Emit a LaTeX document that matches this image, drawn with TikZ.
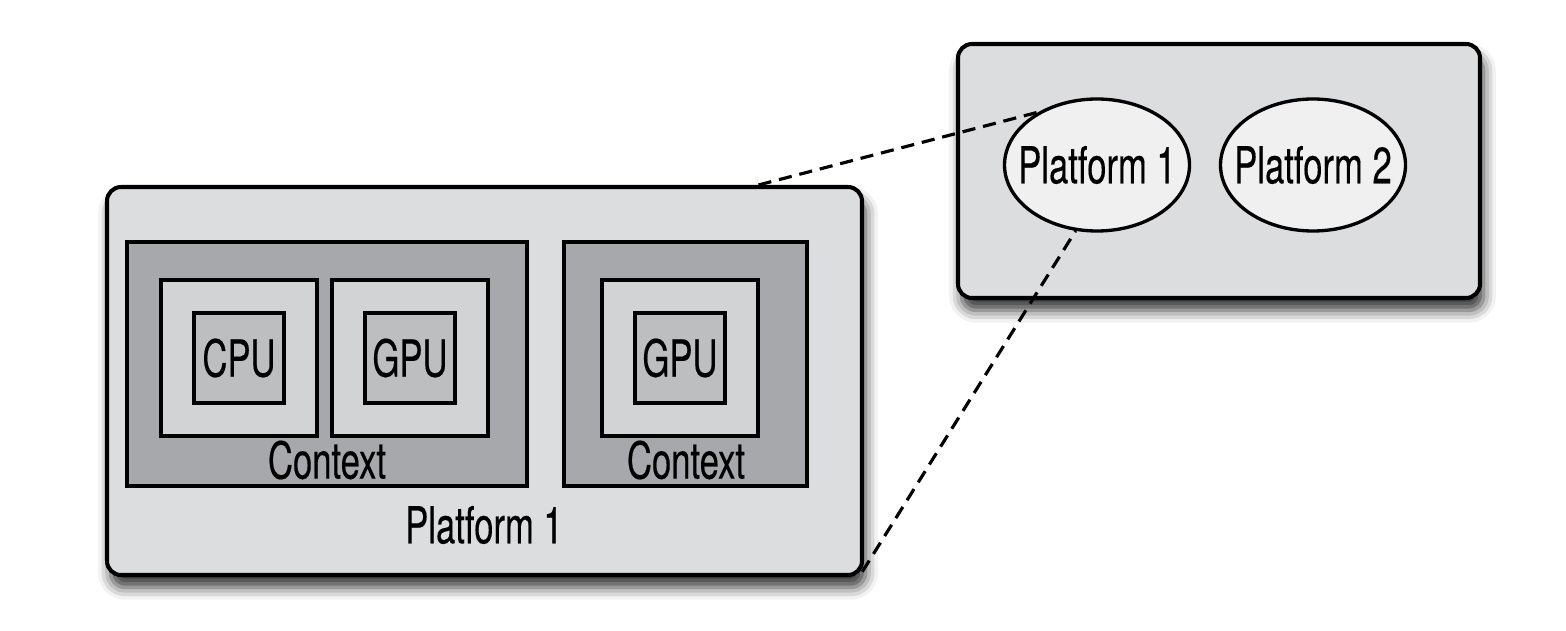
\documentclass[tikz,border=0pt]{standalone}
\usepackage{fontspec}
\setmainfont{TeX Gyre Heros}[FakeStretch=0.68, FakeBold=0.3]
\usetikzlibrary{shapes.geometric,shadows.blur,calc}

\definecolor{platgray}{HTML}{DCDDDF}
\definecolor{ctxgray}{HTML}{A7A8AB}
\definecolor{devgray}{HTML}{D2D3D5}
\definecolor{chipgray}{HTML}{BDBEC0}
\definecolor{ovalgray}{HTML}{F0F0F0}

\begin{document}
\begin{tikzpicture}[
    every node/.style={font=\fontsize{29}{33}\selectfont, text=black},
    platform/.style={rectangle, draw, line width=2.3pt, rounded corners=8pt, fill=platgray,
        blur shadow={shadow xshift=2pt, shadow yshift=-7pt, shadow blur radius=7pt, shadow opacity=80}},
    ctx/.style={rectangle, draw, line width=1.9pt, fill=ctxgray, minimum height=4.88cm},
    device/.style={rectangle, draw, line width=1.9pt, fill=devgray, minimum size=3.12cm},
    chip/.style={rectangle, draw, line width=1.9pt, fill=chipgray, minimum size=1.8cm, inner sep=0pt},
    oval/.style={ellipse, draw, line width=1.9pt, fill=ovalgray, minimum width=3.7cm, minimum height=2.64cm, inner xsep=-10pt, inner ysep=0pt},
    link/.style={line width=1.8pt, dash pattern=on 7.5pt off 4.5pt}
]
\useasboundingbox (0,0) rectangle (31.32,-12.62);

% Platform 1 in detail (left)
\node[platform, minimum width=15.1cm, minimum height=7.76cm] (plat) at (9.69,-7.62) {};

% Context with CPU and GPU
\node[ctx, minimum width=8cm] (ctx1) at (6.54,-7.28) {};
\node[device] (dev1) at (4.78,-7.16) {};
\node[device] (dev2) at (8.2,-7.16) {};
\node[chip] (cpu) at (4.78,-7.16) {CPU};
\node[chip] (gpu1) at (8.2,-7.16) {GPU};
\node (ctx1lbl) at (6.54,-9.2) {Context};

% Context with one GPU
\node[ctx, minimum width=4.86cm] (ctx2) at (13.71,-7.28) {};
\node[device] (dev3) at (13.6,-7.16) {};
\node[chip] (gpu2) at (13.6,-7.16) {GPU};
\node (ctx2lbl) at (13.72,-9.2) {Context};

\node (platlbl) at (9.68,-10.5) {Platform 1};

% Host with the platforms (right)
\node[platform, minimum width=10.44cm, minimum height=5.08cm] (host) at (24.38,-3.42) {};
\node[oval] (p1) at (21.94,-3.3) {Platform 1};
\node[oval] (p2) at (26.26,-3.3) {Platform 2};

% Zoom lines
\coordinate (ztop) at ($(plat.north west)!0.861!(plat.north east)$);
\draw[link] (ztop) -- (p1.138);
\draw[link] ([xshift=-1pt,yshift=3pt]plat.south east) -- (p1.252);

\end{tikzpicture}
\end{document}
